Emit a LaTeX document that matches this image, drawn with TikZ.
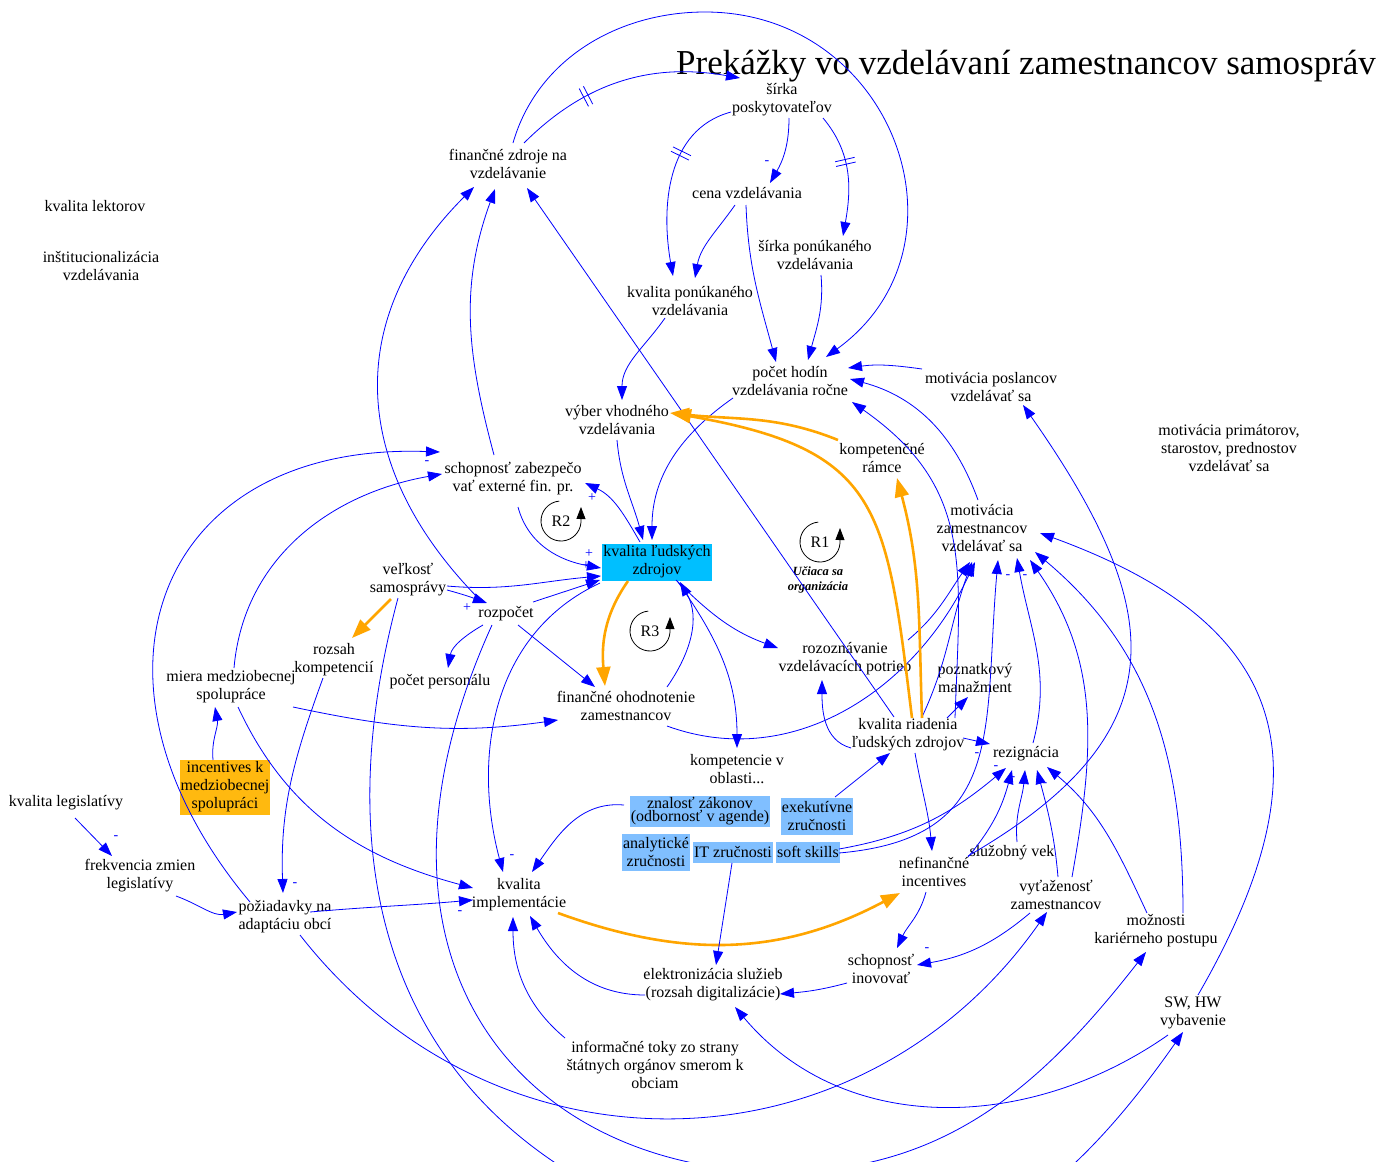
\documentclass[tikz,border=0pt]{standalone}
\usepackage{fontspec}
\setmainfont{Liberation Serif}
\usetikzlibrary{arrows.meta,positioning,decorations.markings}
\definecolor{hrcyan}{RGB}{0,191,255}
\definecolor{skillblue}{RGB}{128,191,255}
\definecolor{incyellow}{RGB}{255,185,15}
\definecolor{mainorange}{RGB}{255,165,0}

\tikzset{
  var/.style={align=center, inner sep=1pt, font=\fontsize{16}{18}\selectfont},
  varbox/.style={var, fill=#1},
  link/.style={blue, line width=0.8pt, -{Triangle[length=14pt,width=10pt]}},
  strong/.style={mainorange, line width=2.6pt, -{Triangle[length=19pt,width=14pt]}},
  sign/.style={blue, inner sep=0pt, font=\fontsize{14}{14}\selectfont},
  delaymark/.style={postaction={decorate}, decoration={markings, mark=at position #1 with {\draw[blue, line width=0.8pt, -] (-2.4pt,-10pt) -- (-2.4pt,10pt) (2.4pt,-10pt) -- (2.4pt,10pt);}}},
  loopsym/.pic={\draw[black, line width=0.8pt, -{Triangle[length=12pt,width=9pt]}] (95:20pt) arc[start angle=95, end angle=355, radius=20pt] -- (20pt,14pt);}
}

\begin{document}
\begin{tikzpicture}[x=1pt, y=1pt]
\useasboundingbox (0,0) rectangle (1390,-1162);

% variables
\node[var, font=\fontsize{35}{40}\selectfont] (title) at (1026,-66) {Prekážky vo vzdelávaní zamestnancov samospráv};
\node[var] (sirka) at (782,-100) {šírka\\poskytovateľov};
\node[var] (fin) at (508,-164) {finančné zdroje na\\vzdelávanie};
\node[var] (cena) at (747,-193) {cena vzdelávania};
\node[var] (sirkapon) at (815,-255) {šírka ponúkaného\\vzdelávania};
\node[var] (kvalpon) at (690,-301) {kvalita ponúkaného\\vzdelávania};
\node[var] (lektori) at (95,-206) {kvalita lektorov};
\node[var] (instit) at (101,-266) {inštitucionalizácia\\vzdelávania};
\node[var] (hodiny) at (790,-381) {počet hodín\\vzdelávania ročne};
\node[var] (motposl) at (991,-387) {motivácia poslancov\\vzdelávať sa};
\node[var] (motprim) at (1229,-448) {motivácia primátorov,\\starostov, prednostov\\vzdelávať sa};
\node[var] (vyber) at (617,-420) {výber vhodného\\vzdelávania};
\node[var] (ramce) at (882,-458) {kompetenčné\\rámce};
\node[var] (extfin) at (513,-479) {schopnosť zabezpečo\\vať externé fin. pr.};
\node[varbox=hrcyan, minimum height=37pt] (hr) at (657,-562) {kvalita ľudských\\zdrojov};
\node[var] (motzam) at (982,-528) {motivácia\\zamestnancov\\vzdelávať sa};
\node[var] (velkost) at (408,-580) {veľkosť\\samosprávy};
\node[var] (rozpocet) at (506,-614) {rozpočet};
\node[var] (rozsah) at (334,-660) {rozsah\\kompetencií};
\node[var] (potreby) at (845,-659) {rozoznávanie\\vzdelávacích potrieb};
\node[var] (poznatky) at (975,-678) {poznatkový\\manažment};
\node[var] (miera) at (231,-687) {miera medziobecnej\\spolupráce};
\node[var] (personal) at (440,-682) {počet personálu};
\node[var] (ohodn) at (626,-706) {finančné ohodnotenie\\zamestnancov};
\node[var] (riadenie) at (908,-735) {kvalita riadenia\\ľudských zdrojov};
\node[var] (rezign) at (1026,-754) {rezignácia};
\node[var] (kompobl) at (737,-769) {kompetencie v\\oblasti...};
\node[varbox=incyellow, minimum height=55pt] (incent) at (225,-787) {incentives k\\medziobecnej\\spolupráci};
\node[varbox=skillblue, minimum height=31pt, font=\fontsize{16}{13.5}\selectfont] (zakony) at (700,-811) {znalosť zákonov\\(odbornosť v agende)};
\node[varbox=skillblue, minimum height=37pt] (exek) at (817,-816) {exekutívne\\zručnosti};
\node[varbox=skillblue, minimum height=37pt] (analyt) at (656,-852) {analytické\\zručnosti};
\node[varbox=skillblue, minimum height=21pt] (itz) at (733,-852) {IT zručnosti};
\node[varbox=skillblue, minimum height=21pt] (soft) at (808,-852) {soft skills};
\node[var] (legisl) at (66,-803) {kvalita legislatívy};
\node[var] (frekv) at (140,-876) {frekvencia zmien\\legislatívy};
\node[var] (nefin) at (934,-872) {nefinančné\\incentives};
\node[var] (vek) at (1012,-853) {služobný vek};
\node[var] (vytaz) at (1056,-895) {vyťaženosť\\zamestnancov};
\node[var] (impl) at (519,-895) {kvalita\\implementácie};
\node[var] (adapt) at (285,-917) {požiadavky na\\adaptáciu obcí};
\node[var] (kariera) at (1156,-931) {možnosti\\kariérneho postupu};
\node[var] (inov) at (881,-969) {schopnosť\\inovovať};
\node[var] (elektr) at (713,-985) {elektronizácia služieb\\(rozsah digitalizácie)};
\node[var] (swhw) at (1193,-1013) {SW, HW\\vybavenie};
\node[var] (toky) at (655,-1065) {informačné toky zo strany\\štátnych orgánov smerom k\\obciam};

% points the long arcs pass
\coordinate (arctop) at (705,-12);
\coordinate (lowone) at (800,-1255);
\coordinate (lowtwo) at (780,-1172);

% loops
\pic (loopone) at (820,-542) {loopsym};
\node[var] (rone) at (820,-542) {R1};
\node[font=\bfseries\itshape\fontsize{12.5}{15}\selectfont, align=center, inner sep=0pt] (learn) at (818,-580) {Učiaca sa\\organizácia};
\pic (looptwo) at (561,-521) {loopsym};
\node[var] (rtwo) at (561,-521) {R2};
\pic (loopthree) at (650,-631) {loopsym};
\node[var] (rthree) at (650,-631) {R3};

% top part
\draw[link, delaymark=0.33] ([shift={(16,21)}]fin.center) to[out=45,in=170] ([shift={(-42,22)}]sirka.center);
\draw[link] ([shift={(5,21)}]fin.center) to[out=74,in=180,looseness=0.96] (arctop) to[out=0,in=36,looseness=1.32] ([shift={(36,24)}]hodiny.center);
\draw[link] ([shift={(7,-18)}]sirka.center) to[out=-90,in=60] ([shift={(23,10)}]cena.center);
\draw[link, delaymark=0.4] ([shift={(41,-18)}]sirka.center) to[out=-50,in=80] ([shift={(28,19)}]sirkapon.center);
\draw[link, delaymark=0.35] ([shift={(-51,-12)}]sirka.center) to[out=195,in=100] ([shift={(-17,25)}]kvalpon.center);
\draw[link] ([shift={(-12,-12)}]cena.center) to[out=-125,in=80] ([shift={(5,23)}]kvalpon.center);
\draw[link] ([shift={(-1,-12)}]cena.center) to[out=-88,in=105] ([shift={(-14,19)}]hodiny.center);
\draw[link] ([shift={(6,-20)}]sirkapon.center) to[out=-85,in=75] ([shift={(18,21)}]hodiny.center);
\draw[link] ([shift={(-25,-17)}]kvalpon.center) to[out=-125,in=90] ([shift={(5,20)}]vyber.center);
\draw[link] ([shift={(-57,-17)}]hodiny.center) to[out=-145,in=90] ([shift={(-5,22)}]hr.center);
\draw[link] ([shift={(-69,18)}]motposl.center) to[out=172,in=8] ([shift={(58,13)}]hodiny.center);
\draw[link] ([shift={(-4,28)}]motzam.center) to[out=110,in=-15] ([shift={(60,2)}]hodiny.center);
\draw[link] ([shift={(47,17)}]riadenie.center) to[out=88,in=-35,looseness=1.15] ([shift={(62,-21)}]hodiny.center);
\draw[link] ([shift={(-14,18)}]riadenie.center) -- ([shift={(19,-24)}]fin.center);
\draw[link] ([shift={(-19,24)}]extfin.center) to[out=105,in=-110] ([shift={(-13,-25)}]fin.center);
\draw[link] ([shift={(-24,12)}]rozpocet.center) to[out=135,in=-135,looseness=1.15] ([shift={(-34,-23)}]fin.center);

% around kvalita ludskych zdrojov
\draw[link] ([shift={(0,-20)}]vyber.center) to[out=-85,in=105] ([shift={(-14,22)}]hr.center);
\draw[link] ([shift={(-17,20)}]hr.center) to[out=120,in=-25] ([shift={(72,-4)}]extfin.center);
\draw[link] ([shift={(5,-28)}]extfin.center) to[out=-75,in=170] ([shift={(-56,-6)}]hr.center);
\draw[link] ([shift={(39,-6)}]velkost.center) to[out=-5,in=185] ([shift={(-56,-14)}]hr.center);
\draw[link] ([shift={(27,12)}]rozpocet.center) -- ([shift={(-57,-18)}]hr.center);
\draw[link] ([shift={(-57,-21)}]hr.center) to[out=-155,in=105] ([shift={(-16,23)}]impl.center);
\draw[link] ([shift={(39,-10)}]velkost.center) to[out=-15,in=160] ([shift={(-19,11)}]rozpocet.center);
\draw[link] ([shift={(41,19)}]ohodn.center) to[out=55,in=-60] ([shift={(23,-20)}]hr.center);
\draw[link] ([shift={(19,-18)}]hr.center) to[out=-45,in=160] ([shift={(-67,11)}]potreby.center);
\draw[link] ([shift={(21,-20)}]hr.center) to[out=-55,in=90] ([shift={(0,21)}]kompobl.center);
\draw[strong] ([shift={(-29,-19)}]hr.center) to[out=-125,in=95] ([shift={(-21,20)}]ohodn.center);
\draw[link] ([shift={(-23,-11)}]rozpocet.center) to[out=-150,in=80] ([shift={(8,14)}]personal.center);
\draw[link] ([shift={(12,-11)}]rozpocet.center) -- ([shift={(-31,19)}]ohodn.center);
\draw[strong] ([shift={(-17,-19)}]velkost.center) -- ([shift={(18,22)}]rozsah.center);

% left part
\draw[link] ([shift={(62,-20)}]miera.center) to[out=-12,in=188] ([shift={(-68,-14)}]ohodn.center);
\draw[link] ([shift={(3,19)}]miera.center) to[out=85,in=190] ([shift={(-71,5)}]extfin.center);
\draw[link] ([shift={(-35,15)}]adapt.center) to[out=130,in=178,looseness=1.5] ([shift={(-73,27)}]extfin.center);
\draw[link] ([shift={(7,-20)}]miera.center) to[out=-65,in=165] ([shift={(-46,7)}]impl.center);
\draw[link] ([shift={(-12,27)}]incent.center) to[out=95,in=-80] ([shift={(-16,-20)}]miera.center);
\draw[link] ([shift={(-11,-18)}]rozsah.center) to[out=-110,in=92] ([shift={(-2,24)}]adapt.center);
\draw[link] ([shift={(9,-15)}]legisl.center) -- ([shift={(-28,20)}]frekv.center);
\draw[link] ([shift={(36,-20)}]frekv.center) to[out=-20,in=190] ([shift={(-48,5)}]adapt.center);
\draw[link] ([shift={(25,5)}]adapt.center) to[out=5,in=185] ([shift={(-46,-5)}]impl.center);

% bottom part
\draw[link] ([shift={(-76,6)}]zakony.center) to[out=175,in=55] ([shift={(13,23)}]impl.center);
\draw[link] ([shift={(-68,-10)}]elektr.center) to[out=180,in=-60] ([shift={(11,-21)}]impl.center);
\draw[link] ([shift={(-90,27)}]toky.center) to[out=140,in=-90] ([shift={(-6,-22)}]impl.center);
\draw[strong] ([shift={(39,-18)}]impl.center) to[out=-20,in=208] ([shift={(-34,-21)}]nefin.center);
\draw[link] ([shift={(-1,-11)}]itz.center) -- ([shift={(3,20)}]elektr.center);
\draw[link] ([shift={(-34,-14)}]inov.center) to[out=195,in=5] ([shift={(67,-9)}]elektr.center);
\draw[link] ([shift={(-8,-20)}]nefin.center) to[out=-105,in=65] ([shift={(16,21)}]inov.center);
\draw[link] ([shift={(-26,-18)}]vytaz.center) to[out=-140,in=10] ([shift={(36,4)}]inov.center);
\draw[link] ([shift={(-25,-22)}]swhw.center) to[out=-145,in=-50] ([shift={(22,-22)}]elektr.center);
\draw[link] ([shift={(15,-18)}]adapt.center) to[out=-52,in=-125,looseness=1.1] ([shift={(-9,-17)}]vytaz.center);
\draw[link] ([shift={(-10,-18)}]velkost.center) to[out=-105,in=170,looseness=1.2] (lowone) to[out=-10,in=-125] ([shift={(-10,-19)}]swhw.center);
\draw[link] ([shift={(-14,-11)}]rozpocet.center) .. controls (340,-960) and (520,-1170) .. (lowtwo) to[out=0,in=-128] ([shift={(-10,-21)}]kariera.center);

% right part
\draw[link] ([shift={(5,18)}]swhw.center) to[out=60,in=-20,looseness=1.4] ([shift={(58,-5)}]motzam.center);
\draw[link] ([shift={(27,18)}]kariera.center) to[out=90,in=-40] ([shift={(53,-24)}]motzam.center);
\draw[link] ([shift={(-9,18)}]kariera.center) to[out=115,in=-40] ([shift={(21,-13)}]rezign.center);
\draw[link] ([shift={(16,18)}]vytaz.center) to[out=80,in=-55] ([shift={(48,-32)}]motzam.center);
\draw[link] ([shift={(2,18)}]vytaz.center) to[out=95,in=-75] ([shift={(11,-16)}]rezign.center);
\draw[link] ([shift={(7,11)}]rezign.center) to[out=75,in=-80] ([shift={(35,-30)}]motzam.center);
\draw[link] ([shift={(5,11)}]vek.center) to[out=95,in=-95] ([shift={(-1,-16)}]rezign.center);
\draw[link] ([shift={(34,15)}]nefin.center) to[out=50,in=-105] ([shift={(-14,-16)}]rezign.center);
\draw[link] ([shift={(31,3)}]soft.center) to[out=10,in=-140] ([shift={(-20,-14)}]rezign.center);
\draw[link] ([shift={(31,-1)}]soft.center) to[out=5,in=-95,looseness=1.3] ([shift={(16,-32)}]motzam.center);
\draw[link] ([shift={(34,16)}]nefin.center) to[out=30,in=-55,looseness=1.4] ([shift={(32,-18)}]motposl.center);
\draw[link] ([shift={(55,-3)}]riadenie.center) -- ([shift={(-36,10)}]rezign.center);
\draw[link] ([shift={(39,17)}]riadenie.center) -- ([shift={(-7,-19)}]poznatky.center);
\draw[link] ([shift={(7,-18)}]riadenie.center) to[out=-80,in=95] ([shift={(-2,21)}]nefin.center);
\draw[link] ([shift={(-57,-13)}]riadenie.center) to[out=165,in=-90] ([shift={(-23,-21)}]potreby.center);
\draw[link] ([shift={(18,19)}]exek.center) -- ([shift={(-18,-18)}]riadenie.center);
\draw[link] ([shift={(14,18)}]riadenie.center) to[out=65,in=-110] ([shift={(-10,-34)}]motzam.center);
\draw[link] ([shift={(63,19)}]potreby.center) to[out=40,in=-125] ([shift={(-12,-34)}]motzam.center);
\draw[link] ([shift={(41,-20)}]ohodn.center) to[out=-20,in=-115] ([shift={(-7,-34)}]motzam.center);

% orange links
\draw[strong] ([shift={(-44,18)}]ramce.center) to[out=158,in=-6] ([shift={(53,7)}]vyber.center);
\draw[strong] ([shift={(4,17)}]riadenie.center) to[out=97,in=-10,looseness=1.4] ([shift={(55,7)}]vyber.center);
\draw[strong] ([shift={(14,17)}]riadenie.center) to[out=92,in=-75] ([shift={(15,-20)}]ramce.center);

% polarities
\node[sign] (m1) at (767,-163) {-};
\node[sign] (p1) at (592,-498) {+};
\node[sign] (p2) at (589,-554) {+};
\node[sign] (p3) at (586,-566) {+};
\node[sign] (p4) at (467,-608) {+};
\node[sign] (m2) at (427,-463) {-};
\node[sign] (m3) at (116,-838) {-};
\node[sign] (m4) at (295,-885) {-};
\node[sign] (m5) at (460,-913) {-};
\node[sign] (m6) at (512,-857) {-};
\node[sign] (m7) at (927,-950) {-};
\node[sign] (m8) at (977,-755) {-};
\node[sign] (m9) at (996,-768) {-};
\node[sign] (m10) at (1013,-779) {-};
\node[sign] (m11) at (1045,-785) {-};
\node[sign] (m12) at (1008,-577) {-};
\node[sign] (m13) at (1025,-577) {-};
\end{tikzpicture}
\end{document}
